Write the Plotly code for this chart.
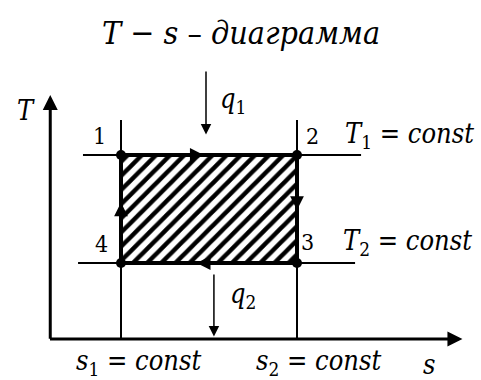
import plotly.graph_objects as go

# Carnot cycle in T-s coordinates (arbitrary units)
s_vals = [1.0, 2.0]          # s1, s2
T_vals = [2.0, 1.0]          # T1, T2
state_names = ["1", "2", "3", "4"]

cycle_s = [s_vals[0], s_vals[1], s_vals[1], s_vals[0]]
cycle_T = [T_vals[0], T_vals[0], T_vals[1], T_vals[1]]

X_RANGE = [0.3125, 3.0455]
Y_RANGE = [-0.0833, 3.435]
s0, T0 = 0.608, 0.296          # axes origin
s_end, T_end = 2.94, 2.556     # axis arrow tips

SERIF = "DejaVu Serif Condensed, DejaVu Serif"
fig = go.Figure()

# isotherms T1, T2 (thin guide lines)
fig.add_trace(go.Scatter(x=[0.784, 2.364], y=[T_vals[0]] * 2, mode="lines",
                         line=dict(color="black", width=2), hoverinfo="skip"))
fig.add_trace(go.Scatter(x=[0.756, 2.330], y=[T_vals[1]] * 2, mode="lines",
                         line=dict(color="black", width=2), hoverinfo="skip"))
# adiabats s1, s2
for sv in s_vals:
    fig.add_trace(go.Scatter(x=[sv, sv], y=[T0, 2.324], mode="lines",
                             line=dict(color="black", width=2), hoverinfo="skip"))

# hatched work area
fig.add_trace(go.Scatter(
    x=cycle_s + [cycle_s[0]], y=cycle_T + [cycle_T[0]],
    mode="lines", fill="toself", fillcolor="white",
    fillpattern=dict(shape="/", size=10, solidity=0.45, fgopacity=1,
                     fgcolor="black", bgcolor="white"),
    line=dict(color="black", width=4), hoverinfo="skip"))

# state points
fig.add_trace(go.Scatter(x=cycle_s, y=cycle_T, mode="markers",
                         marker=dict(color="black", size=10), hoverinfo="skip"))

ann = []

def arrow(x, y, ax, ay, width=1.5, head=2, size=1.0):
    ann.append(dict(x=x, y=y, ax=ax, ay=ay, xref="x", yref="y",
                    axref="x", ayref="y", text="", showarrow=True,
                    arrowhead=head, arrowsize=size, arrowwidth=width,
                    arrowcolor="black", standoff=0, startstandoff=0))

# coordinate axes
arrow(s0 - 0.01, T_end, s0 - 0.01, T0 - 0.012, width=3, head=2, size=1.0)
arrow(s_end, T0, s0 - 0.02, T0, width=3, head=2, size=1.0)

# heat flows q1 and q2
arrow(1.483, 2.19, 1.483, 2.787, width=1.5, head=2, size=1.4)
arrow(1.528, 0.32, 1.528, 0.907, width=1.5, head=2, size=1.4)

# direction of the cycle on each edge
d = 0.08
arrow(1.47, T_vals[0], 1.47 - d, T_vals[0], width=1.2, head=2, size=2.3)
arrow(s_vals[1], 1.49, s_vals[1], 1.49 + d, width=1.2, head=2, size=2.3)
arrow(1.43, T_vals[1], 1.43 + d, T_vals[1], width=1.2, head=2, size=2.3)
arrow(s_vals[0], 1.56, s_vals[0], 1.56 - d, width=1.2, head=2, size=2.3)

def label(x, y, text, size=27, xanchor="center", ref="data"):
    xr, yr = ("x", "y") if ref == "data" else ("paper", "paper")
    ann.append(dict(x=x, y=y, xref=xr, yref=yr, text=text, showarrow=False,
                    xanchor=xanchor, yanchor="middle",
                    font=dict(family=SERIF, size=size, color="black")))

# title
label(0.5, 0.912, "<i>T</i> − <i>s</i> – <i>диаграмма</i>", size=32, ref="paper")

label(0.46, 2.41, "<i>T</i>", size=27)
# state numbers
label(0.88, 2.18, state_names[0], size=23)
label(2.09, 2.18, state_names[1], size=23)
label(2.06, 1.19, state_names[2], size=23)
label(0.89, 1.18, state_names[3], size=23)

label(2.26, 2.18, "<i>T</i><sub>1</sub> = <i>const</i>", xanchor="left")
label(2.25, 1.19, "<i>T</i><sub>2</sub> = <i>const</i>", xanchor="left")
label(1.55, 2.50, "<i>q</i><sub>1</sub>", xanchor="left")
label(1.61, 0.70, "<i>q</i><sub>2</sub>", xanchor="left")
label(1.10, 0.08, "<i>s</i><sub>1</sub> = <i>const</i>")
label(2.12, 0.08, "<i>s</i><sub>2</sub> = <i>const</i>")
label(2.75, 0.06, "<i>s</i>")

fig.update_layout(
    width=481, height=380, margin=dict(l=0, r=0, t=0, b=0),
    paper_bgcolor="white", plot_bgcolor="white", showlegend=False,
    font=dict(family=SERIF),
    xaxis=dict(range=X_RANGE, visible=False, fixedrange=True),
    yaxis=dict(range=Y_RANGE, visible=False, fixedrange=True),
    annotations=ann,
)

fig.write_html("out.html")
